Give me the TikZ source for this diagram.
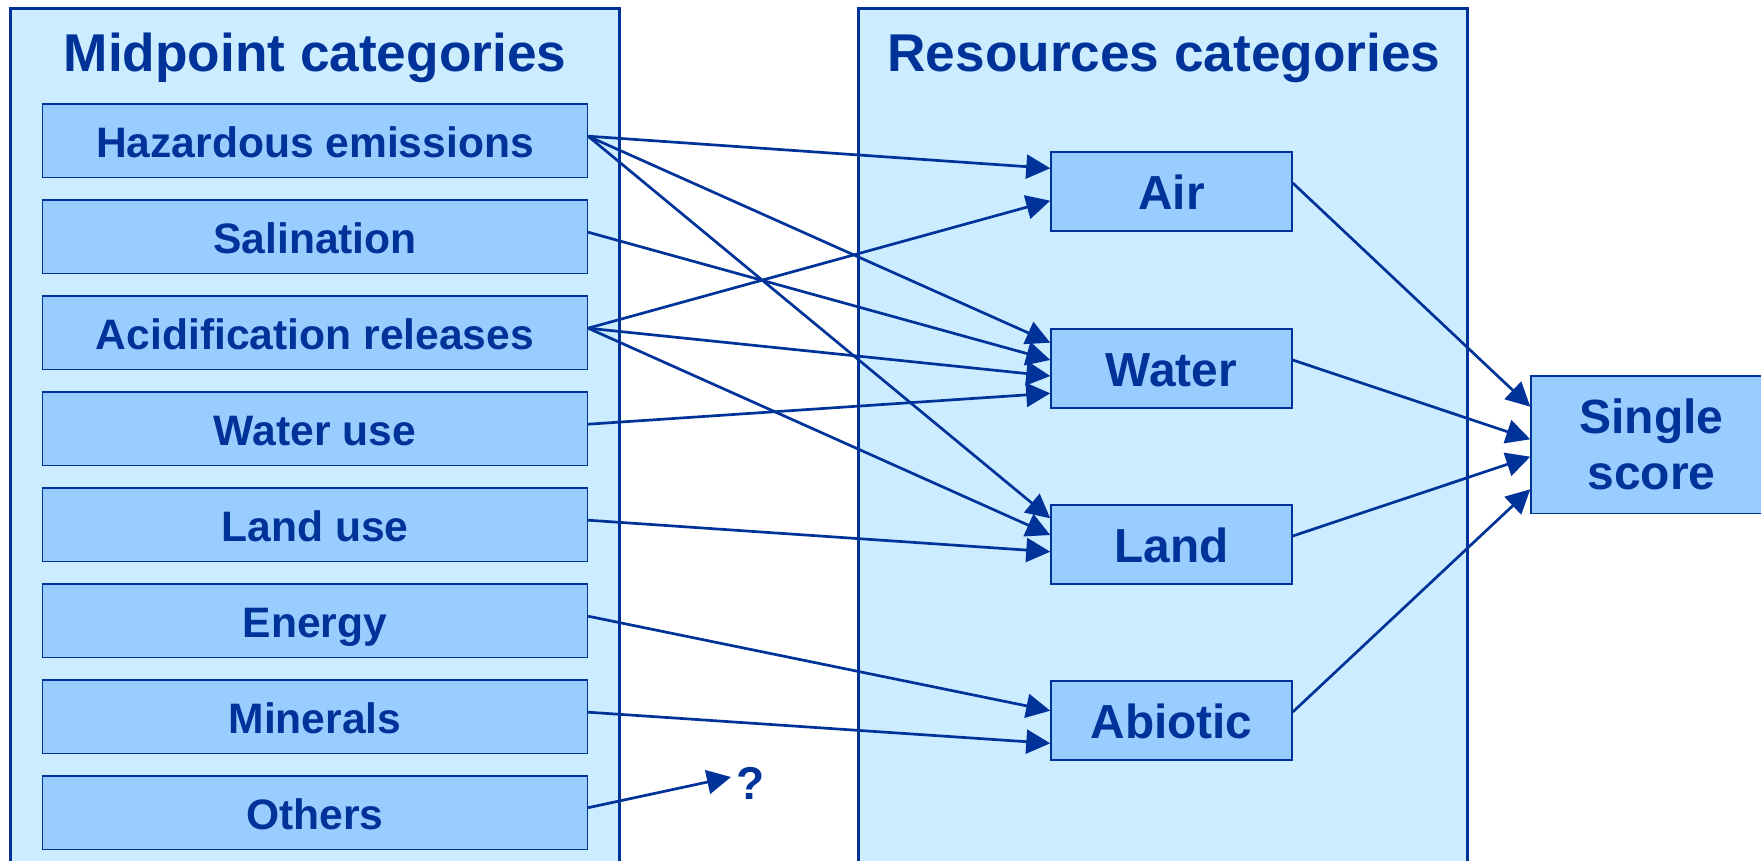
\documentclass[tikz,border=0pt]{standalone}
\usepackage{fontspec}
\setmainfont{Liberation Sans}
\usetikzlibrary{arrows.meta}
\definecolor{dblue}{HTML}{003399}
\definecolor{lblue}{HTML}{CCECFF}
\definecolor{mblue}{HTML}{99CCFF}
\begin{document}
\begin{tikzpicture}[x=1pt,y=-1pt,
  outerbox/.style={draw=dblue,line width=3pt,fill=lblue},
  midbox/.style={draw=dblue,line width=1.5pt,fill=mblue,minimum width=544.7pt,minimum height=73.3pt,inner sep=0pt,text=dblue,font=\fontsize{42.6}{50}\selectfont\bfseries,text height=33.5pt,text depth=0pt},
  resbox/.style={draw=dblue,line width=1.5pt,fill=mblue,minimum width=241pt,minimum height=79pt,inner sep=0pt,text=dblue,font=\fontsize{47.8}{56}\selectfont\bfseries,text height=36.2pt,text depth=0pt},
  scorebox/.style={draw=dblue,line width=1.5pt,fill=mblue,minimum width=241pt,minimum height=137.5pt,inner sep=0pt,text=dblue,font=\fontsize{48}{56}\selectfont\bfseries,align=center},
  titletext/.style={text=dblue,font=\fontsize{53.2}{60}\selectfont\bfseries,inner sep=0pt,anchor=base},
  qtext/.style={text=dblue,font=\fontsize{46}{54}\selectfont\bfseries,inner sep=1pt,text height=33pt,text depth=0pt},
  arr/.style={draw=dblue,line width=2.7pt,-{Triangle[length=24pt,width=24pt]}}
]
\useasboundingbox (0,0) rectangle (1761,861);
\clip (0,0) rectangle (1761,861);
\fill[white] (0,0) rectangle (1761,861);
\draw[outerbox] (10,9) rectangle (619,900);
\draw[outerbox] (858.5,9) rectangle (1467.5,900);
\node[titletext] (t1) at (315,71.2) {Midpoint categories};
\node[titletext] (t2) at (1164,71.2) {Resources categories};
% midpoint boxes
\node[midbox] (haz) at (315,140.7) {Hazardous emissions};
\node[midbox] (sal) at (315,236.7) {Salination};
\node[midbox] (acid) at (315,332.7) {Acidification releases};
\node[midbox] (wu) at (315,428.7) {Water use};
\node[midbox] (lu) at (315,524.7) {Land use};
\node[midbox] (en) at (315,620.7) {Energy};
\node[midbox] (min) at (315,716.7) {Minerals};
\node[midbox] (oth) at (315,812.7) {Others};
% resource boxes
\node[resbox] (air) at (1171.5,191.5) {Air};
\node[resbox] (wat) at (1171.5,368.5) {Water};
\node[resbox] (land) at (1171.5,544.5) {Land};
\node[resbox] (abi) at (1171.5,720.5) {Abiotic};
\node[scorebox] (ss) at (1651.5,444.5) {Single\\score};
\node[qtext] (q) at (751,783) {?};
\coordinate (qend) at (731,777);
% connectors
\draw[arr] ([yshift=4.5pt]haz.east) -- ([yshift=23.2pt]air.west);
\draw[arr] ([yshift=4.5pt]haz.east) -- ([yshift=25.8pt]wat.west);
\draw[arr] ([yshift=4.5pt]haz.east) -- ([yshift=26.2pt]land.west);
\draw[arr] ([yshift=4.5pt]sal.east) -- ([yshift=8.5pt]wat.west);
\draw[arr] ([yshift=4.5pt]acid.east) -- ([yshift=-9.2pt]air.west);
\draw[arr] ([yshift=4.5pt]acid.east) -- ([yshift=-7.5pt]wat.west);
\draw[arr] ([yshift=4.5pt]acid.east) -- ([yshift=9.5pt]land.west);
\draw[arr] ([yshift=4.5pt]wu.east) -- ([yshift=-24.8pt]wat.west);
\draw[arr] ([yshift=4.5pt]lu.east) -- ([yshift=-7.2pt]land.west);
\draw[arr] ([yshift=4.5pt]en.east) -- ([yshift=9.8pt]abi.west);
\draw[arr] ([yshift=4.5pt]min.east) -- ([yshift=-22.8pt]abi.west);
\draw[arr] ([yshift=5pt]oth.east) -- (qend);
\draw[arr] ([yshift=8.5pt]air.east) -- ([yshift=37.8pt]ss.west);
\draw[arr] ([yshift=8.5pt]wat.east) -- ([yshift=5.2pt]ss.west);
\draw[arr] ([yshift=8.5pt]land.east) -- ([yshift=-12.2pt]ss.west);
\draw[arr] ([yshift=8.5pt]abi.east) -- ([yshift=-44.8pt]ss.west);
\end{tikzpicture}
\end{document}
